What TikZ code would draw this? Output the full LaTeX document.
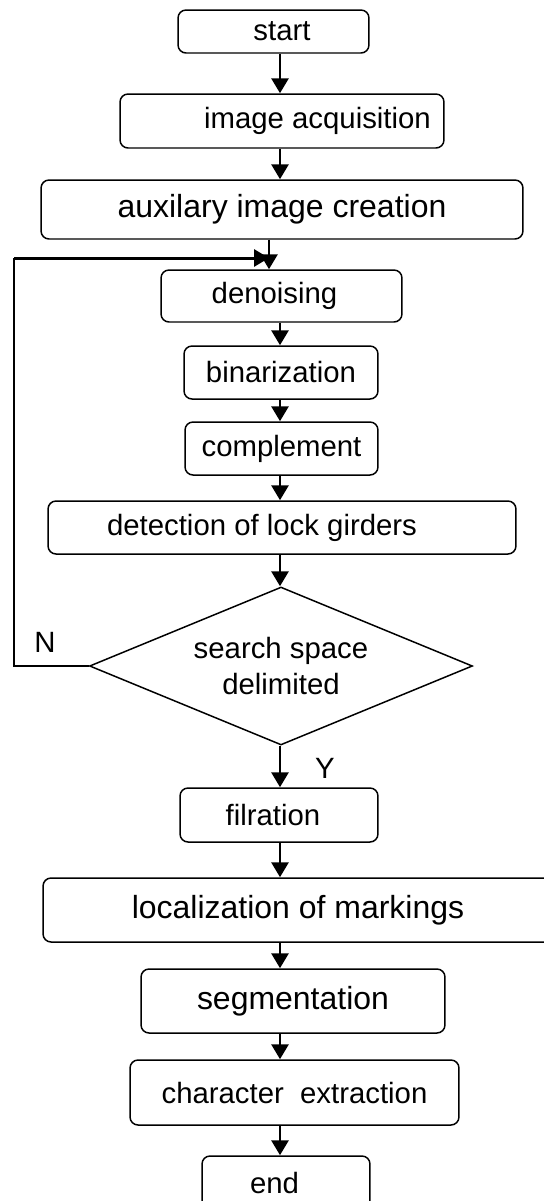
\documentclass[tikz,border=0pt]{standalone}
\usepackage{fontspec}
\setmainfont{Liberation Sans}
\usetikzlibrary{positioning,
        shapes.geometric,
        arrows.meta}
\newcommand{\stepfont}{\fontsize{16.7}{20}\selectfont}
\newcommand{\bigstepfont}{\fontsize{18.2}{22}\selectfont}

\begin{document}
\begin{tikzpicture}[x=0.02cm, y=-0.02cm,
            stepbox/.style={rectangle, draw, rounded corners=0.16cm, line width=0.85pt, inner sep=0pt, font=\stepfont},
            bigbox/.style={stepbox, font=\bigstepfont},
            choice/.style={diamond, draw, line width=0.85pt, inner sep=0pt, aspect=2.4, align=center, font=\stepfont},
            flow/.style={-{Triangle[width=0.34cm,length=0.3cm]}, line width=1.7pt},
            loopline/.style={line width=0.85pt}]
            \useasboundingbox (0,0) rectangle (544,1201);

            \node [stepbox, minimum width=3.82cm, minimum height=0.86cm] (start) at (273.5,31.5) {\hspace*{0.34cm}start};
            \node [stepbox, minimum width=6.48cm, minimum height=1.08cm] (acq) at (282,121) {\hspace*{1.42cm}image acquisition};
            \node [bigbox, minimum width=9.64cm, minimum height=1.18cm] (aux) at (282,209.5) {auxilary image creation};
            \node [stepbox, minimum width=4.82cm, minimum height=1.04cm] (denoise) at (281.5,296) {denoising\hspace*{0.28cm}};
            \node [stepbox, minimum width=3.88cm, minimum height=1.06cm] (binar) at (281,372.5) {binarization};
            \node [stepbox, minimum width=3.86cm, minimum height=1.06cm] (compl) at (281.5,448.5) {complement};
            \node [stepbox, minimum width=9.36cm, minimum height=1.06cm] (girders) at (282,527.5) {detection of lock girders\hspace*{0.8cm}};
            \node [choice, minimum width=7.66cm, minimum height=3.16cm] (delim) at (281,666) {search space\\delimited};
            \node [stepbox, minimum width=3.96cm, minimum height=1.08cm] (filr) at (279,815) {filration\hspace*{0.24cm}};
            \node [bigbox, minimum width=10.2cm, minimum height=1.28cm] (marks) at (298,910) {localization of markings};
            \node [bigbox, minimum width=6.08cm, minimum height=1.28cm] (segm) at (293,1001) {segmentation};
            \node [stepbox, minimum width=6.58cm, minimum height=1.3cm] (chars) at (294.5,1092.5) {character~~extraction};
            \node [stepbox, minimum width=3.36cm, minimum height=1.08cm] (end) at (286,1183) {end\hspace*{0.46cm}};

            \node [font=\stepfont] (nlabel) at (45,642) {N};
            \node [font=\stepfont] (ylabel) at (325,768) {Y};

            \coordinate (spine) at (280,0);
            \coordinate (join) at (269,258);
            \coordinate (loopturn) at (14,258);

            \draw [flow] (start.south -| spine) -- (acq.north -| spine);
            \draw [flow] (acq.south -| spine) -- (aux.north -| spine);
            \draw [flow] (aux.south -| join) -- (denoise.north -| join);
            \draw [flow] (denoise.south -| spine) -- (binar.north -| spine);
            \draw [flow] (binar.south -| spine) -- (compl.north -| spine);
            \draw [flow] (compl.south -| spine) -- (girders.north -| spine);
            \draw [flow] (girders.south -| spine) -- (delim.north -| spine);
            \draw [flow] (delim.south -| spine) -- (filr.north -| spine);
            \draw [flow] (filr.south -| spine) -- (marks.north -| spine);
            \draw [flow] (marks.south -| spine) -- (segm.north -| spine);
            \draw [flow] (segm.south -| spine) -- (chars.north -| spine);
            \draw [flow] (chars.south -| spine) -- (end.north -| spine);
            \draw [loopline] (delim.west) -| (loopturn);
            \draw [flow] (loopturn) -- (join);
        \end{tikzpicture}
\end{document}
